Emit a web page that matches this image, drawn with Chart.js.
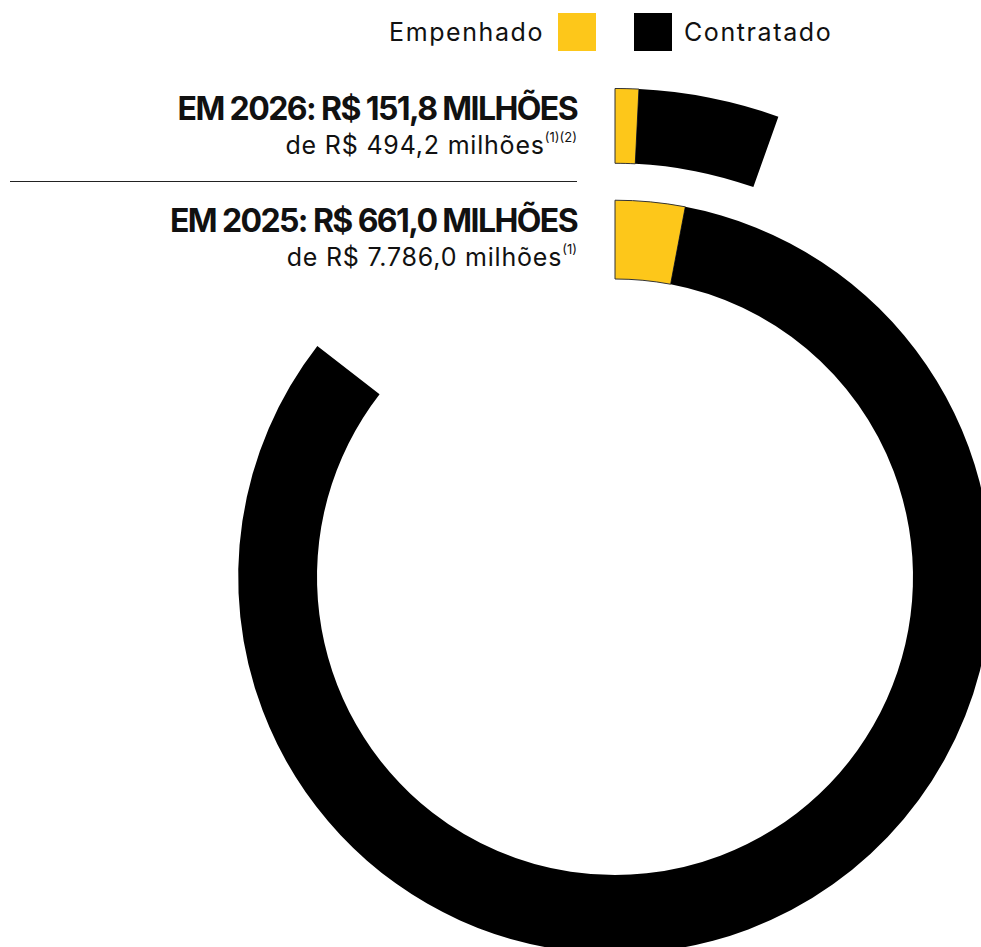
<!DOCTYPE html>
<html>
<head>
<meta charset="utf-8">
<script src="https://cdn.jsdelivr.net/npm/chart.js@4"></script>
<style>
    html, body { margin: 0; padding: 0; background: #fff; overflow: hidden; width: 981px; height: 947px; }
    body { position: relative; font-family: Inter, "Noto Sans", sans-serif; color: #111; }
    #wrap { position: absolute; left: 126px; top: 88px; width: 978px; height: 978px; }
    .legenda { position: absolute; top: 13px; height: 38px; line-height: 38px; font-size: 25px; letter-spacing: 1.6px; }
    .caixa { position: absolute; top: 13px; width: 38px; height: 38px; }
    .bloco { position: absolute; left: 0; width: 577px; text-align: right; }
    .titulo { font-weight: 700; font-size: 32px; line-height: 32px; letter-spacing: -1.6px; }
    .sub { font-size: 25px; line-height: 25px; margin-top: 8px; letter-spacing: 0.8px; }
    .sub sup { font-size: 13px; vertical-align: 12px; line-height: 0; letter-spacing: 0; }
    .linha { position: absolute; left: 10px; width: 567px; top: 181px; height: 0; border-top: 1.5px solid #222; }
</style>
</head>
<body>
<div class="legenda" style="left:389px">Empenhado</div>
<div class="caixa" style="left:558px; background:#FDC71A"></div>
<div class="caixa" style="left:634px; background:#000"></div>
<div class="legenda" style="left:684px">Contratado</div>

<div class="bloco" id="bloco0" style="top:93px"></div>
<div class="linha"></div>
<div class="bloco" id="bloco1" style="top:205px"></div>

<div id="wrap"><canvas id="grafico" width="978" height="978"></canvas></div>

<script>
// aneis de fora para dentro
const anos = ['2026', '2025'];
const empenhadoTexto = ['151,8', '661,0'];
const contratadoTexto = ['494,2', '7.786,0'];
const notas = [['(1)', '(2)'], ['(1)']];

// tamanhos dos arcos (volta completa = escalaMax)
const escalaMax = 9106;
const contratado = [494.2, 7786.0];
const empenhadoArco = [71, 272];

const amarelo = '#FDC71A';

anos.forEach(function (ano, i) {
    document.getElementById('bloco' + i).innerHTML =
        '<div class="titulo">EM ' + ano + ': R$ ' + empenhadoTexto[i] + ' MILHÕES</div>' +
        '<div class="sub">de R$ ' + contratadoTexto[i] + ' milhões' +
        notas[i].map(function (n) { return '<sup>' + n + '</sup>' }).join('') + '</div>';
})

function anel(i, peso) {
    return {
        data: [empenhadoArco[i], contratado[i] - empenhadoArco[i], escalaMax - contratado[i]],
        backgroundColor: [amarelo, '#000', 'rgba(0,0,0,0)'],
        borderColor: ['#333', '#000', 'rgba(0,0,0,0)'],
        borderWidth: [1, 0, 0],
        weight: peso
    };
}

var datasets = [
    anel(0, 75),
    { data: [1], backgroundColor: ['rgba(0,0,0,0)'], borderWidth: 0, weight: 37 },
    anel(1, 79)
];

const config = {
    type: 'doughnut',
    data: {
        labels: ['Empenhado', 'Contratado', ''],
        datasets: datasets
    },
    options: {
        responsive: false,
        animation: false,
        cutout: 298,
        rotation: 0,
        circumference: 360,
        layout: { padding: 0 },
        plugins: {
            legend: { display: false },
            tooltip: { enabled: false }
        },
        events: []
    }
};

var meuGrafico = new Chart(document.getElementById('grafico'), config);
</script>
</body>
</html>
